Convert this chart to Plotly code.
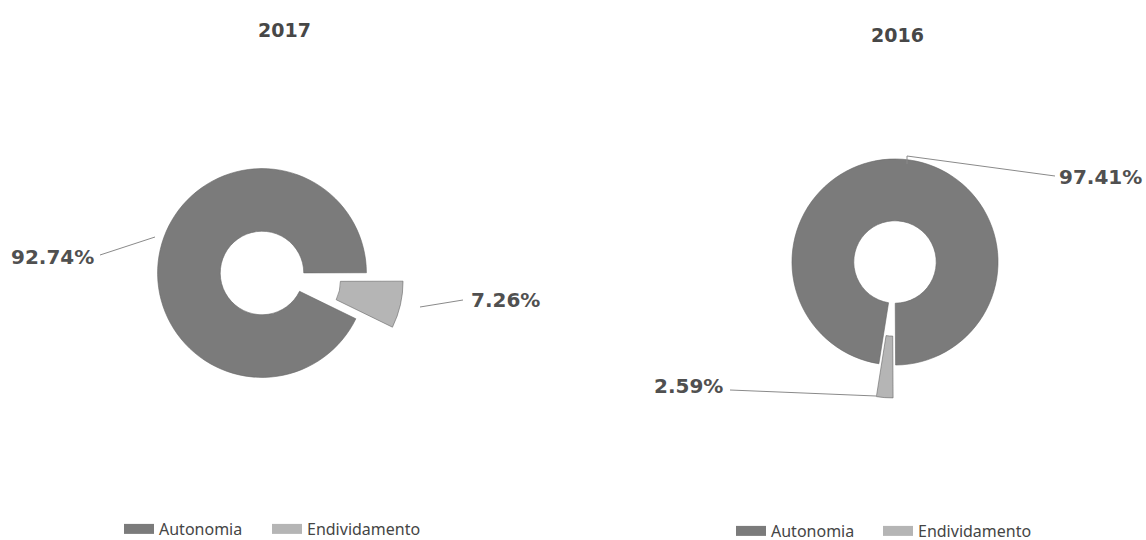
import plotly.graph_objects as go

# Financial structure split per year
categories = ["Autonomia", "Endividamento"]
values_2017 = [92.74, 7.26]
values_2016 = [97.41, 2.59]
years = ["2017", "2016"]

W, H = 1146, 540
colors = ["#7b7b7b", "#b5b5b5"]
edge = "#666666"
txt = "#505050"


def px(x):
    return x / W


def py(y):
    return 1 - y / H


fig = go.Figure()

fig.add_trace(go.Pie(
    labels=categories, values=values_2017, sort=False, direction="clockwise",
    rotation=116, hole=0.4, pull=[0, 0.36],
    marker=dict(colors=colors, line=dict(color=edge, width=0.6)),
    textinfo="none", hoverinfo="label+percent", showlegend=False,
    domain=dict(x=[px(120), px(404)], y=[py(415), py(131)]),
))

fig.add_trace(go.Pie(
    labels=categories, values=values_2016, sort=False, direction="clockwise",
    rotation=189, hole=0.4, pull=[0, 0.32],
    marker=dict(colors=colors, line=dict(color=edge, width=0.6)),
    textinfo="none", hoverinfo="label+percent", showlegend=False,
    domain=dict(x=[px(759), px(1031)], y=[py(398), py(126)]),
))

# Legend entries: one small legend box per entry, drawn as wide swatches
legend_slots = [("legend", "legend2"), ("legend3", "legend4")]
for slots in legend_slots:
    for name, col, leg in zip(categories, colors, slots):
        fig.add_trace(go.Scatter(
            x=[None], y=[None], mode="lines", name=name,
            line=dict(color=col, width=12), legend=leg, hoverinfo="skip",
        ))

label_font = dict(family="DejaVu Sans", size=20, color=txt)


def pct(v):
    return f"<b>{v:.2f}%</b>"


# Outside value labels with leader lines
labels = [
    (pct(values_2017[0]), 52, 257, "center", [(100, 255), (155, 237)]),
    (pct(values_2017[1]), 505, 300, "center", [(420, 307), (463, 300)]),
    (pct(values_2016[0]), 1144, 177, "right", [(907, 164), (907, 156), (1055, 176)]),
    (pct(values_2016[1]), 688, 386, "center", [(730, 390), (876, 396)]),
]
for text, tx, ty, anchor, pts in labels:
    fig.add_annotation(text=text, x=px(tx), y=py(ty), xref="paper", yref="paper",
                       showarrow=False, font=label_font, xanchor=anchor, yanchor="middle")
    path = "M " + " L ".join(f"{px(x)},{py(y)}" for x, y in pts)
    fig.add_shape(type="path", path=path, xref="paper", yref="paper",
                  line=dict(color="#8a8a8a", width=1))

# Year titles
for year, tx, ty in [(years[0], 284, 30), (years[1], 897, 35)]:
    fig.add_annotation(text=f"<b>{year}</b>", x=px(tx), y=py(ty), xref="paper", yref="paper",
                       showarrow=False, font=dict(family="DejaVu Sans", size=19, color="#474747"),
                       xanchor="center", yanchor="middle")

legend_style = dict(orientation="h", font=dict(family="Noto Sans", size=16, color="#454545"),
                    bgcolor="rgba(0,0,0,0)", xanchor="left", yanchor="middle",
                    xref="container", yref="container")

fig.update_layout(
    width=W, height=H,
    margin=dict(l=0, r=0, t=0, b=0, autoexpand=False),
    paper_bgcolor="white", plot_bgcolor="white",
    showlegend=True,
    xaxis=dict(visible=False), yaxis=dict(visible=False),
    legend=dict(x=px(119), y=py(529), **legend_style),
    legend2=dict(x=px(267), y=py(529), **legend_style),
    legend3=dict(x=px(731), y=py(531), **legend_style),
    legend4=dict(x=px(878), y=py(531), **legend_style),
)

fig.write_html("out.html")
